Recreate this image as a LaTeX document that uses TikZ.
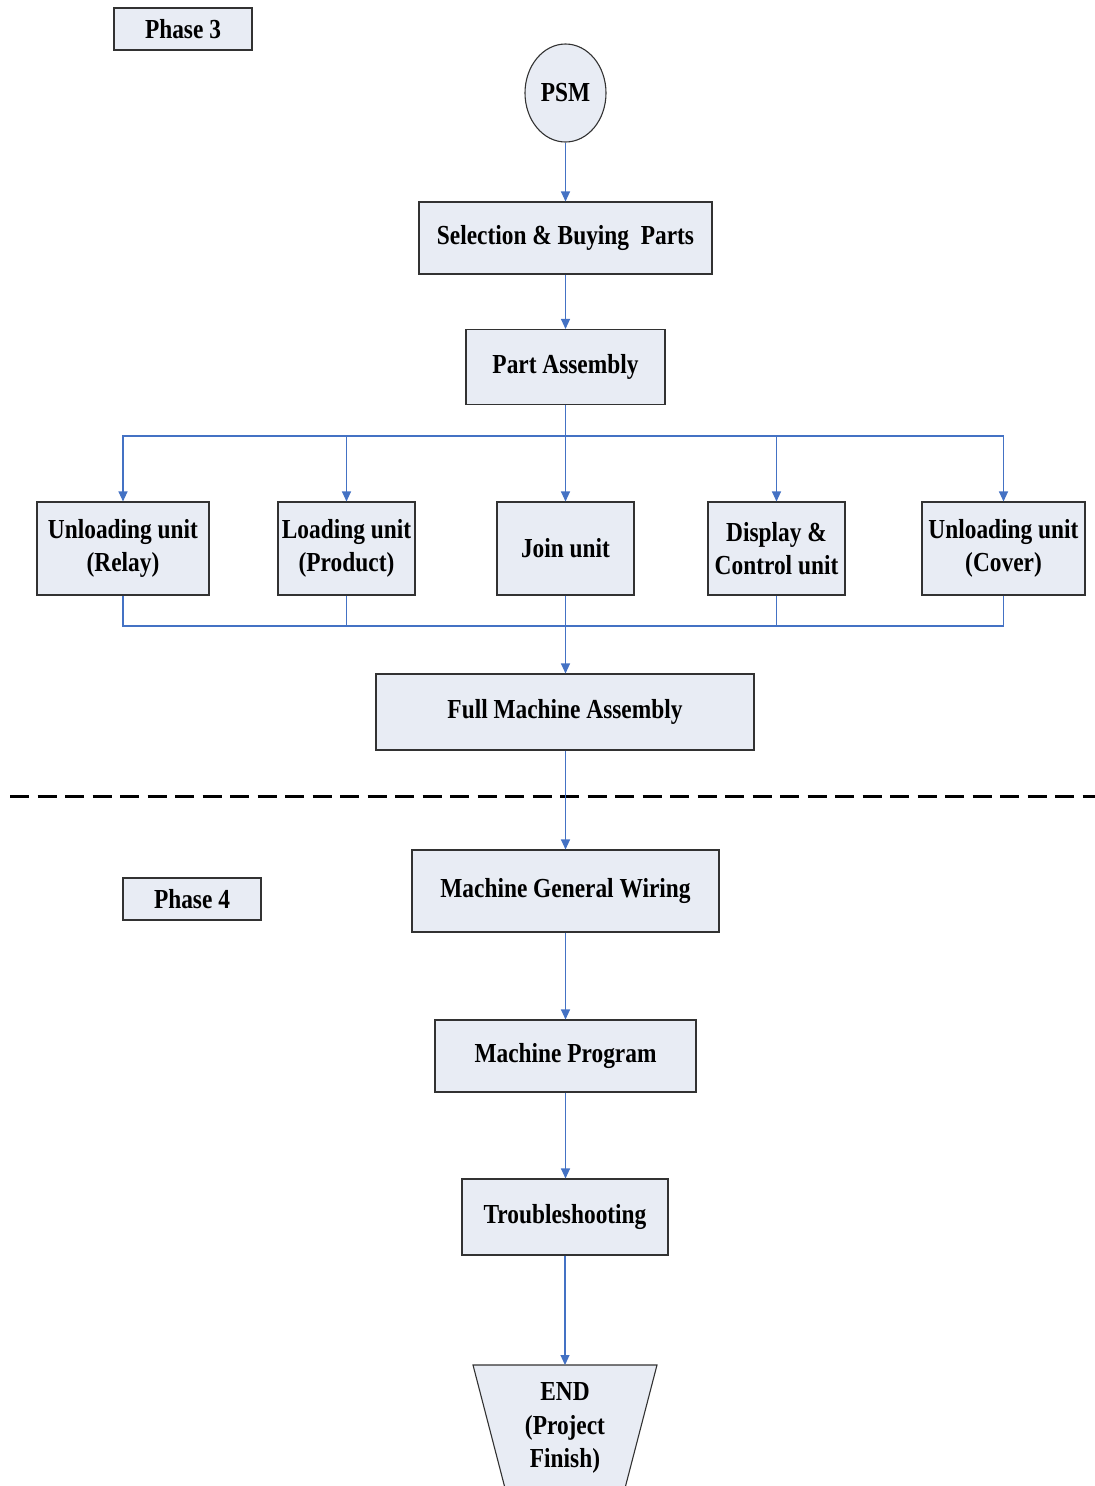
\documentclass[tikz,border=0pt]{standalone}
\usepackage{fontspec}
\setmainfont{Liberation Serif}[FakeStretch=0.85]
\usetikzlibrary{arrows.meta,calc,shapes.geometric}
\definecolor{boxfill}{RGB}{232,236,244}
\definecolor{boxline}{RGB}{50,50,50}
\definecolor{conn}{RGB}{68,114,196}
\begin{document}
\begin{tikzpicture}[x=1pt,y=-1pt,
  every node/.style={font=\fontsize{27.5}{33.5}\selectfont\bfseries},
  box/.style={draw=boxline,fill=boxfill,line width=1.1pt,inner sep=0pt,align=center},
  arr/.style={draw=conn,line width=1.1pt,-{Triangle[length=10pt,width=9pt]}},
  ln/.style={draw=conn,line width=1.1pt}]
\useasboundingbox (0,0) rectangle (1095,1486);
% phase labels
\node[box,minimum width=138pt,minimum height=42pt] (ph3) at (183,29) {Phase 3};
\node[box,minimum width=138pt,minimum height=42pt] (ph4) at (192,899) {Phase 4};
% main column
\node[box,ellipse,minimum width=81pt,minimum height=98pt] (psm) at (565.5,93) {PSM};
\node[box,minimum width=293pt,minimum height=72pt] (sel) at (565.5,238) {Selection \& Buying~~Parts};
\node[box,minimum width=199pt,minimum height=75pt] (part) at (565.5,367) {Part Assembly};
% units
\node[box,minimum width=172pt,minimum height=93pt] (u1) at (123,548.5) {Unloading unit\\(Relay)};
\node[box,minimum width=137pt,minimum height=93pt] (u2) at (346.5,548.5) {Loading unit\\(Product)};
\node[box,minimum width=137pt,minimum height=93pt] (u3) at (565.5,548.5) {Join unit};
\node[box,minimum width=137pt,minimum height=93pt] (u4) at (776.5,548.5) {Display \&\\Control unit};
\node[box,minimum width=163pt,minimum height=93pt] (u5) at (1003.5,548.5) {Unloading unit\\(Cover)};
\node[box,minimum width=378pt,minimum height=76pt] (full) at (565,712) {Full Machine Assembly};
\node[box,minimum width=307pt,minimum height=82pt] (wir) at (565.5,891) {Machine General Wiring};
\node[box,minimum width=261pt,minimum height=72pt] (prog) at (565.5,1056) {Machine Program};
\node[box,minimum width=206pt,minimum height=76pt] (trb) at (565,1217) {Troubleshooting};
% END trapezoid
\coordinate (endtop) at (565,1365);
\filldraw[fill=boxfill,draw=boxline,line width=1.1pt] (473,1365) -- (657,1365) -- (624,1492) -- (506,1492) -- cycle;
\node[align=center,inner sep=0pt] (endtxt) at (565,1428) {END\\(Project\\Finish)};
% dashed separator
\coordinate (dl) at (10,796);
\coordinate (dr) at (1095,796);
\draw[line width=3pt,dash pattern=on 19pt off 8.5pt] (dl) -- (dr);
% connectors
\coordinate (split) at (565.5,436);
\coordinate (merge) at (565.5,626);
\draw[arr] (psm) -- (sel);
\draw[arr] (sel) -- (part);
\draw[ln] (part.south) -- (split);
\foreach \u in {u1,u2,u3,u4,u5} {
  \draw[arr] (split) -| (\u.north);
  \draw[ln] (\u.south) |- (merge);
}
\draw[arr] (merge) -- (full.north -| merge);
\draw[arr] (full.south -| wir.north) -- (wir.north);
\draw[arr] (wir) -- (prog);
\draw[arr] (prog.south) -- (prog.south |- trb.north);
\draw[arr] (trb.south) -- (endtop);
\end{tikzpicture}
\end{document}
